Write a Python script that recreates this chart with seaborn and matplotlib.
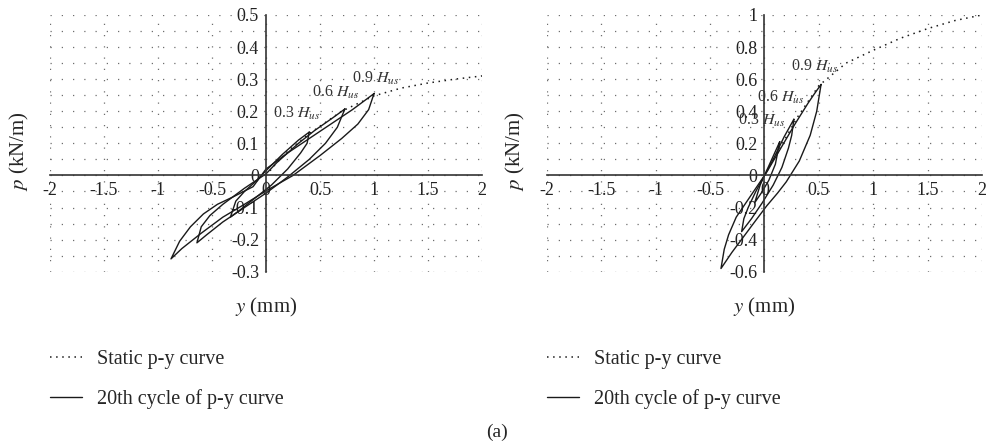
import numpy as np
import pandas as pd
import seaborn as sns
import matplotlib.pyplot as plt
from matplotlib.ticker import MultipleLocator

sns.set_style('white')
plt.rcParams['font.family'] = ['Liberation Serif', 'DejaVu Serif']
plt.rcParams['mathtext.fontset'] = 'stix'

# ---- left panel data (y in mm, p in kN/m) ----
left_static_y = [0.0, 0.1, 0.2, 0.4, 0.7, 1.0, 1.25, 1.5, 1.75, 2.0]
left_static_p = [0.0, 0.04, 0.075, 0.13, 0.2, 0.248, 0.272, 0.288, 0.300, 0.310]

left_l09_y = [1.0, 0.92, 0.8, 0.6, 0.4, 0.2, 0.0, -0.12, -0.3, -0.45, -0.58, -0.7, -0.8, -0.88,
              -0.78, -0.6, -0.4, -0.2, 0.0, 0.25, 0.5, 0.7, 0.85, 0.95, 1.0]
left_l09_p = [0.255, 0.235, 0.205, 0.16, 0.115, 0.07, 0.02, -0.035, -0.066, -0.09, -0.12, -0.16, -0.205, -0.26,
              -0.228, -0.18, -0.13, -0.09, -0.048, 0.0, 0.062, 0.115, 0.16, 0.205, 0.255]

left_l06_y = [0.73, 0.62, 0.45, 0.3, 0.1, 0.0, -0.2, -0.4, -0.52, -0.6, -0.64,
              -0.55, -0.4, -0.2, 0.0, 0.2, 0.4, 0.55, 0.66, 0.73]
left_l06_p = [0.207, 0.18, 0.14, 0.1, 0.04, 0.005, -0.04, -0.09, -0.125, -0.16, -0.21,
              -0.185, -0.145, -0.1, -0.055, -0.005, 0.05, 0.1, 0.15, 0.207]

left_l03_y = [0.4, 0.3, 0.15, 0.0, -0.1, -0.2, -0.28, -0.33,
              -0.25, -0.1, 0.05, 0.2, 0.32, 0.38, 0.4]
left_l03_p = [0.135, 0.11, 0.065, 0.015, -0.02, -0.05, -0.08, -0.13,
              -0.11, -0.07, -0.03, 0.02, 0.07, 0.1, 0.135]

# ---- right panel data ----
right_static_y = [0.0, 0.15, 0.3, 0.5, 0.75, 1.0, 1.25, 1.5, 1.75, 2.0]
right_static_p = [0.0, 0.18, 0.36, 0.56, 0.70, 0.78, 0.855, 0.915, 0.965, 1.0]

right_l09_y = [0.52, 0.46, 0.4, 0.28, 0.15, 0.02, -0.13, -0.26, -0.33, -0.37, -0.40,
               -0.3, -0.19, -0.08, 0.02, 0.12, 0.2, 0.32, 0.42, 0.48, 0.52]
right_l09_p = [0.567, 0.51, 0.45, 0.32, 0.17, 0.02, -0.13, -0.26, -0.37, -0.46, -0.58,
               -0.48, -0.38, -0.28, -0.19, -0.11, -0.04, 0.09, 0.25, 0.4, 0.567]

right_l06_y = [0.27, 0.18, 0.08, 0.0, -0.08, -0.15, -0.19, -0.21,
               -0.12, -0.02, 0.08, 0.16, 0.22, 0.25, 0.27]
right_l06_p = [0.35, 0.24, 0.1, 0.0, -0.1, -0.2, -0.27, -0.35,
               -0.27, -0.17, -0.06, 0.05, 0.17, 0.25, 0.35]

right_l03_y = [0.14, 0.08, 0.02, -0.04, -0.09, -0.03, 0.04, 0.1, 0.14]
right_l03_p = [0.21, 0.12, 0.03, -0.06, -0.17, -0.11, -0.03, 0.07, 0.21]

x_ticks = [-2, -1.5, -1, -0.5, 0, 0.5, 1, 1.5, 2]
x_labels = ['-2', '-1.5', '-1', '-0.5', '0', '0.5', '1', '1.5', '2']
left_y_ticks = [-0.3, -0.2, -0.1, 0, 0.1, 0.2, 0.3, 0.4, 0.5]
left_y_labels = ['-0.3', '-0.2', '-0.1', '0', '0.1', '0.2', '0.3', '0.4', '0.5']
right_y_ticks = [-0.6, -0.4, -0.2, 0, 0.2, 0.4, 0.6, 0.8, 1]
right_y_labels = ['-0.6', '-0.4', '-0.2', '0', '0.2', '0.4', '0.6', '0.8', '1']

level_names = ['0.3 $H_{us}$', '0.6 $H_{us}$', '0.9 $H_{us}$']
left_label_pos = [(0.06, 0.165), (0.43, 0.232), (0.8, 0.275)]
right_label_pos = [(-0.24, 0.29), (-0.07, 0.43), (0.24, 0.625)]

fig = plt.figure(figsize=(9.89, 4.45), dpi=100)
ax1 = fig.add_axes([0.0506, 0.3894, 0.4368, 0.577])
ax2 = fig.add_axes([0.553, 0.3894, 0.44, 0.577])

line_col = '#1a1a1a'
grid_col = '#6e6e6e'
dots = (0, (1, 8))


def draw_panel(ax, static_y, static_p, loops, yticks, ylabels, ystep, labels, label_pos):
    sns.lineplot(x=static_y, y=static_p, ax=ax, sort=False, estimator=None,
                 color=line_col, linestyle=(0, (1, 3)), linewidth=1.1,
                 label='Static p-y curve')
    for i, (ly, lp) in enumerate(loops):
        sns.lineplot(x=ly, y=lp, ax=ax, sort=False, estimator=None,
                     color=line_col, linewidth=1.0,
                     label='20th cycle of p-y curve' if i == 0 else None)
    for name, (tx, ty) in zip(labels, label_pos):
        ax.text(tx, ty, name, fontsize=11.5, color='#333333', va='bottom', ha='left')

    ax.set_xlim(-2, 2)
    ax.set_ylim(yticks[0], yticks[-1])
    ax.set_xticks(x_ticks)
    ax.set_xticklabels(x_labels)
    ax.set_yticks(yticks)
    ax.set_yticklabels(ylabels)
    ax.yaxis.set_minor_locator(MultipleLocator(ystep / 2))
    ax.grid(True, which='major', axis='both', color=grid_col, linestyle=dots, linewidth=0.9)
    ax.grid(True, which='minor', axis='y', color=grid_col, linestyle=dots, linewidth=0.9)
    ax.tick_params(axis='both', which='both', length=0, labelsize=13, colors='#222222')
    ax.tick_params(axis='x', pad=5)
    ax.tick_params(axis='y', pad=5)

    for s in ['top', 'right']:
        ax.spines[s].set_visible(False)
    ax.spines['left'].set_position('zero')
    ax.spines['bottom'].set_position('zero')
    for s in ['left', 'bottom']:
        ax.spines[s].set_color('#333333')
        ax.spines[s].set_linewidth(1.2)
    ax.set_axisbelow(True)

    ax.set_xlabel('$y$ (mm)', fontsize=15)
    ax.set_ylabel('$p$ (kN/m)', fontsize=15)
    ax.xaxis.set_label_coords(0.5, -0.095)
    ax.yaxis.set_label_coords(-0.045, 0.47)

    ax.legend(loc='upper left', bbox_to_anchor=(0.0, -0.305), frameon=False,
              fontsize=14.5, handlelength=1.6, handletextpad=0.75, labelspacing=0.98,
              borderaxespad=0, borderpad=0)


draw_panel(ax1, left_static_y, left_static_p,
           [(left_l03_y, left_l03_p), (left_l06_y, left_l06_p), (left_l09_y, left_l09_p)],
           left_y_ticks, left_y_labels, 0.1, level_names, left_label_pos)
draw_panel(ax2, right_static_y, right_static_p,
           [(right_l03_y, right_l03_p), (right_l06_y, right_l06_p), (right_l09_y, right_l09_p)],
           right_y_ticks, right_y_labels, 0.2, level_names, right_label_pos)

fig.text(497 / 989, 1 - 432 / 445, '(a)', fontsize=14, ha='center', va='center')

fig.savefig('out.png', dpi=100)
